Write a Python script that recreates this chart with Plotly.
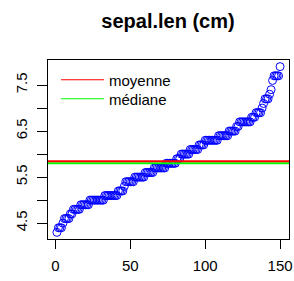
import numpy as np
import plotly.graph_objects as go

# sorted sepal length values (cm)
sepal_len = [
    4.3, 4.4, 4.4, 4.4, 4.5, 4.6, 4.6, 4.6, 4.6, 4.7, 4.7,
    4.8, 4.8, 4.8, 4.8, 4.8, 4.9, 4.9, 4.9, 4.9, 4.9, 4.9,
    5.0, 5.0, 5.0, 5.0, 5.0, 5.0, 5.0, 5.0, 5.0, 5.0,
    5.1, 5.1, 5.1, 5.1, 5.1, 5.1, 5.1, 5.1, 5.1,
    5.2, 5.2, 5.2, 5.2, 5.3, 5.4, 5.4, 5.4, 5.4, 5.4, 5.4,
    5.5, 5.5, 5.5, 5.5, 5.5, 5.5, 5.5, 5.6, 5.6, 5.6, 5.6, 5.6, 5.6,
    5.7, 5.7, 5.7, 5.7, 5.7, 5.7, 5.7, 5.7,
    5.8, 5.8, 5.8, 5.8, 5.8, 5.8, 5.8, 5.9, 5.9, 5.9,
    6.0, 6.0, 6.0, 6.0, 6.0, 6.0, 6.1, 6.1, 6.1, 6.1, 6.1, 6.1,
    6.2, 6.2, 6.2, 6.2, 6.3, 6.3, 6.3, 6.3, 6.3, 6.3, 6.3, 6.3, 6.3,
    6.4, 6.4, 6.4, 6.4, 6.4, 6.4, 6.4, 6.5, 6.5, 6.5, 6.5, 6.5,
    6.6, 6.6, 6.7, 6.7, 6.7, 6.7, 6.7, 6.7, 6.7, 6.7,
    6.8, 6.8, 6.8, 6.9, 6.9, 6.9, 6.9, 7.0, 7.1, 7.2, 7.2, 7.2,
    7.3, 7.4, 7.6, 7.7, 7.7, 7.7, 7.7, 7.9,
]
index = list(range(1, len(sepal_len) + 1))

x_tickvals = [0, 50, 100, 150]
y_tickvals = [4.5, 5.0, 5.5, 6.0, 6.5, 7.0, 7.5]
y_ticktext = ["4.5", "", "5.5", "", "6.5", "", "7.5"]
legend_labels = ["moyenne", "médiane"]

mean_v = float(np.mean(sepal_len))
median_v = float(np.median(sepal_len))

FONT = "Liberation Sans, Arial, Helvetica, sans-serif"
W, H = 294, 281
ML, MR, MT, MB = 48, 5, 60, 42
PW, PH = W - ML - MR, H - MT - MB


def px_to_paper(xp, yp):
    return (xp - ML) / PW, 1 - (yp - MT) / PH


fig = go.Figure()
fig.add_trace(go.Scatter(
    x=index, y=sepal_len, mode="markers",
    marker=dict(symbol="circle-open", size=8, color="#0000FF",
                line=dict(width=1, color="#0000FF")),
    showlegend=False, hoverinfo="skip",
))
fig.add_trace(go.Scatter(x=[None], y=[None], mode="lines", legend="legend",
                         line=dict(color="#FF0000", width=1), name=legend_labels[0]))
fig.add_trace(go.Scatter(x=[None], y=[None], mode="lines", legend="legend2",
                         line=dict(color="#00FF00", width=1), name=legend_labels[1]))

fig.add_shape(type="line", xref="paper", x0=0, x1=1, yref="y", y0=median_v, y1=median_v,
              line=dict(color="#00FF00", width=2), layer="above")
fig.add_shape(type="line", xref="paper", x0=0, x1=1, yref="y", y0=mean_v, y1=mean_v,
              line=dict(color="#FF0000", width=2), layer="above")

n = len(sepal_len)
xpad = (n - 1) * 0.04
ypad = (max(sepal_len) - min(sepal_len)) * 0.04

lx, ly1 = px_to_paper(56, 80)
_, ly2 = px_to_paper(56, 99)
leg_common = dict(xanchor="left", yanchor="middle", bgcolor="rgba(0,0,0,0)",
                  borderwidth=0, itemwidth=43, font=dict(size=15, family=FONT))

fig.update_layout(
    width=W, height=H,
    margin=dict(l=ML, r=MR, t=MT, b=MB, autoexpand=False),
    paper_bgcolor="white", plot_bgcolor="white",
    font=dict(family=FONT, size=15, color="black"),
    title=dict(text="<b>sepal.len (cm)</b>", x=168 / W, xanchor="center", xref="container",
               y=1 - 21 / H, yanchor="middle", yref="container",
               font=dict(size=20, family=FONT, color="black")),
    xaxis=dict(range=[1 - xpad, n + xpad], tickvals=x_tickvals, ticks="outside",
               ticklen=9, tickwidth=1, tickcolor="black", showline=True, mirror=True,
               linecolor="black", linewidth=1, showgrid=False, zeroline=False,
               tickfont=dict(size=15), ticklabelstandoff=4, automargin=False),
    yaxis=dict(range=[min(sepal_len) - ypad, max(sepal_len) + ypad],
               tickvals=y_tickvals, ticktext=y_ticktext, tickangle=-90, ticks="outside",
               ticklen=10, tickwidth=1, tickcolor="black", showline=True, mirror=True,
               linecolor="black", linewidth=1, showgrid=False, zeroline=False,
               tickfont=dict(size=15), ticklabelstandoff=4, automargin=False),
    legend=dict(x=lx, y=ly1, **leg_common),
    legend2=dict(x=lx, y=ly2, **leg_common),
    showlegend=True,
)

fig.write_html("out.html", config={"displayModeBar": False},
               post_script="document.body.style.margin='0px';document.body.style.padding='0px';")
